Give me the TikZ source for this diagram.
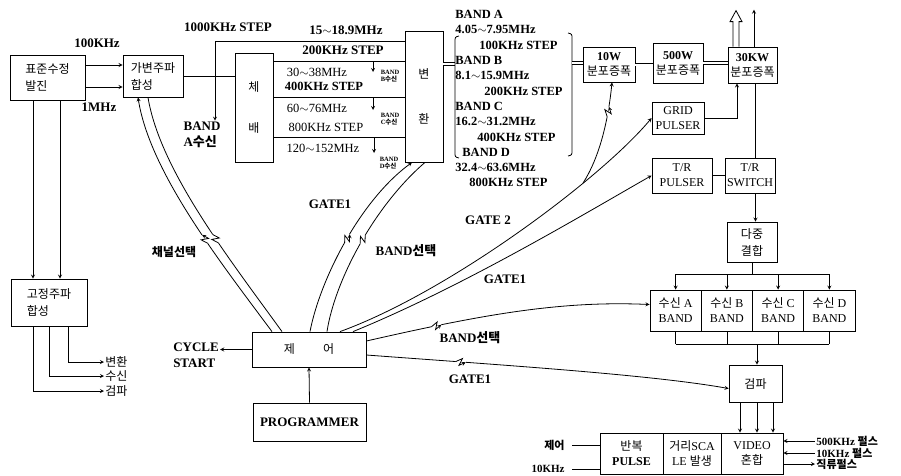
\documentclass[tikz,border=0pt]{standalone}
\usepackage{fontspec}
\setmainfont{Liberation Serif}
\newfontfamily\kr{Noto Sans CJK KR}
\usetikzlibrary{arrows.meta,decorations.markings,positioning}

\tikzset{
  box/.style={draw,thick,align=center,inner sep=1pt,font=\fontsize{12}{15}\selectfont},
  krbox/.style={box,font=\kr\fontsize{12}{17}\selectfont},
  lbl/.style={inner sep=1pt,font=\bfseries\fontsize{13}{16}\selectfont},
  krlbl/.style={inner sep=1pt,font=\kr\fontsize{12}{14}\selectfont},
  rowtxt/.style={inner sep=0pt,font=\fontsize{12.5}{14}\selectfont},
  tiny/.style={inner sep=0pt,align=left,font=\bfseries\fontsize{6.5}{7.5}\selectfont},
  dbl/.style={double,double distance=2pt,thick},
  bolt/.style={postaction={decorate},decoration={markings,mark=at position #1 with {
      \fill[white] (-5pt,-2.2pt) rectangle (5pt,2.2pt);
      \draw[thick] (-5pt,0pt) -- (1.5pt,3.5pt) -- (-1.5pt,-3.5pt) -- (5pt,0pt);}}}
}

\begin{document}
\begin{tikzpicture}[x=1pt,y=-1pt,>=stealth,thick]
\useasboundingbox (0,0) rectangle (901,475);

% oscillator and synthesizers
\node[krbox,align=left,minimum width=75,minimum height=45] (osc) at (47.5,77.5) {표준수정\\발진};
\node[krbox,align=left,minimum width=60,minimum height=42] (vsyn) at (153,76) {가변주파\\합성};
\node[krbox,align=left,minimum width=76,minimum height=47] (fsyn) at (49,302.5) {고정주파\\합성};

\draw[->] ([yshift=12.5pt]osc.east) coordinate (t1) -- (t1 -| vsyn.west);
\draw[->] ([yshift=-9.5pt]osc.east) coordinate (t2) -- (t2 -| vsyn.west);
\node[lbl] (f100k) at (97,43) {100KHz};
\node[lbl] (f1m) at (99,107) {1MHz};

\draw[->] ([xshift=-14.5pt]osc.south) coordinate (t3) -- (t3 |- fsyn.north);
\draw[->] ([xshift=12.5pt]osc.south) coordinate (t4) -- (t4 |- fsyn.north);

% fixed outputs
\node[krlbl,anchor=west] (o1) at (104,362) {변환};
\node[krlbl,anchor=west] (o2) at (104,376) {수신};
\node[krlbl,anchor=west] (o3) at (104,391) {검파};
\draw[->] ([xshift=19pt]fsyn.south) |- (o1.west);
\draw[->] (fsyn.south) |- (o2.west);
\draw[->] ([xshift=-16pt]fsyn.south) |- (o3.west);

% multiplier and converter
\node[krbox,minimum width=38,minimum height=109] (mult) at (254,107.5) {체\\[24pt]배};
\node[krbox,minimum width=38,minimum height=131] (conv) at (424,96.5) {변\\[28pt]환};
\coordinate (jA) at (215,76);
\draw (vsyn.east) -- (vsyn.east -| mult.west);
\draw (jA) |- (conv.west |- 0,41);
\node[lbl,align=left] (bandA) at (202,135) {BAND\\A{\kr 수신}};
\draw[->] (jA) -- (jA |- bandA.north);
\node[lbl] (st1000) at (228,27) {1000KHz STEP};
\node[lbl] (fr15) at (346,30) {15$\sim$18.9MHz};
\node[lbl] (st200) at (343,50) {200KHz STEP};

\foreach \y in {61,97,137}
  \draw (mult.east |- 0,\y) -- (conv.west |- 0,\y);
\node[rowtxt] (fr30) at (317,72) {30$\sim$38MHz};
\node[rowtxt,font=\bfseries\fontsize{12.5}{14}\selectfont] (st400) at (324,86) {400KHz STEP};
\node[rowtxt] (fr60) at (317,108) {60$\sim$76MHz};
\node[rowtxt] (st800) at (326,127) {800KHz STEP};
\node[rowtxt] (fr120) at (323,148) {120$\sim$152MHz};

\node[tiny] (bandB) at (390,76) {BAND\\B{\kr 수신}};
\node[tiny] (bandC) at (390,119) {BAND\\C{\kr 수신}};
\node[tiny] (bandD) at (389,163) {BAND\\D{\kr 수신}};
\draw[->] (373,61) -- (373,72);
\draw[->] (373,97) -- (373,110);
\draw[->] (374,137) -- (374,153);

% band list
\draw[dbl] (conv.east |- 0,64) -- (455,64);
\draw (459,36) .. controls (455,37) .. (455,42) -- (455,152) .. controls (455,157) .. (459,158);
\draw (568,33) .. controls (572,34) .. (572,39) -- (572,150) .. controls (572,155) .. (568,156);
\node[lbl,anchor=north west,align=left,font=\bfseries\fontsize{12.5}{15.3}\selectfont] (bands) at (454,9)
  {BAND A\\4.05$\sim$7.95MHz\\\hspace{24pt}100KHz STEP\\BAND B\\8.1$\sim$15.9MHz\\\hspace{29pt}200KHz STEP\\
   BAND C\\16.2$\sim$31.2MHz\\\hspace{22pt}400KHz STEP\\\hspace{7pt}BAND D\\32.4$\sim$63.6MHz\\\hspace{14pt}800KHz STEP};

% amplifiers
\node[box,minimum width=52,minimum height=35] (amp10) at (609,64.5) {\textbf{10W}\\{\kr 분포증폭}};
\node[box,minimum width=50,minimum height=40] (amp500) at (678,63) {\textbf{500W}\\{\kr 분포증폭}};
\node[box,minimum width=49,minimum height=36] (amp30k) at (752.5,65) {\textbf{30KW}\\{\kr 분포증폭}};
\draw[dbl] (572,63) -- (amp10.west |- 0,63);
\draw[dbl] (amp10.east) -- (amp10.east -| amp500.west);
\draw[dbl] (amp500.east) -- (amp500.east -| amp30k.west);
\draw ([xshift=-19.5pt]amp30k.north) -- ++(0,-25) -- ++(-3,0) -- ++(6,-11) -- ++(6,11) -- ++(-3,0) -- ++(0,25);
\draw[->] ([xshift=1.5pt]amp30k.north) -- ++(0,-37);

% pulsers and duplexer
\node[box,minimum width=52,minimum height=32] (grid) at (678,118) {GRID\\PULSER};
\node[box,minimum width=60,minimum height=35] (trp) at (682,175.5) {T/R\\PULSER};
\node[box,minimum width=50,minimum height=35] (trs) at (750,175.5) {T/R\\SWITCH};
\draw[->] (grid.east) -| ([xshift=-15.5pt]amp30k.south);
\draw (trp.east) -- (trp.east -| trs.west);
\draw ([xshift=3pt]amp30k.south) coordinate (t5) -- (t5 |- trs.north);
\node[krbox,minimum width=50,minimum height=40] (dj) at (752,242) {다중\\결합};
\draw[->] (t5 |- trs.south) -- (t5 |- dj.north);

% receivers
\foreach \i/\c/\x in {1/A/675.6,2/B/726.9,3/C/778.1,4/D/829.4}
  \node[box,minimum width=51.25,minimum height=41] (rx\i) at (\x,310.5) {{\kr 수신} \c\\BAND};
\coordinate (rj) at (752,274);
\draw (dj.south) -- (dj.south |- rj);
\draw (rx1.north |- rj) -- (rx4.north |- rj);
\foreach \i in {1,...,4}
  \draw[->] (rx\i.north |- rj) -- (rx\i.north);
\coordinate (mj) at (757,344);
\foreach \i in {1,...,4}
  \draw (rx\i.south) -- (rx\i.south |- mj);
\draw (rx1.south |- mj) -- (rx4.south |- mj);
\node[krbox,minimum width=53,minimum height=37] (det) at (755.5,383.5) {검파};
\draw[->] (mj) -- (mj |- det.north);

% video section
\node[box,minimum width=63,minimum height=41] (rep) at (631.5,453.5) {{\kr 반복}\\\textbf{PULSE}};
\node[box,minimum width=58,minimum height=41] (rng) at (692,453.5) {{\kr 거리}SCA\\LE {\kr 발생}};
\node[box,minimum width=62,minimum height=41] (vid) at (752,453.5) {VIDEO\\{\kr 혼합}};
\foreach \s in {-15.5,1.5,17.5}
  \draw[->] ([xshift=\s pt]det.south) coordinate (q) -- (q |- vid.north);
\node[krlbl,anchor=east,font=\kr\bfseries\fontsize{11}{13}\selectfont] (inC) at (566,445) {제어};
\node[lbl,anchor=east,font=\bfseries\fontsize{11}{13}\selectfont] (in10) at (566,469) {10KHz};
\draw ([xshift=6pt]inC.east) -- (inC.east -| rep.west);
\draw ([xshift=6pt]in10.east) -- (in10.east -| rep.west);
\node[lbl,anchor=west,font=\bfseries\fontsize{11}{13}\selectfont] (out1) at (815,441) {500KHz {\kr 펄스}};
\node[lbl,anchor=west,font=\bfseries\fontsize{11}{13}\selectfont] (out2) at (815,453) {10KHz {\kr 펄스}};
\node[krlbl,anchor=west,font=\kr\bfseries\fontsize{11}{13}\selectfont] (out3) at (815,464) {직류펄스};
\draw[<-] (vid.east |- out1.west) -- (out1.west);
\draw[<-] (vid.east |- out2.west) -- (out2.west);
\draw[->] (vid.east |- out3.west) -- (out3.west);

% control
\node[box,minimum width=114,minimum height=35,font=\kr\fontsize{12}{14}\selectfont] (ctl) at (309,349.5) {제\hspace{28pt}어};
\node[box,minimum width=113,minimum height=38,font=\bfseries\fontsize{13}{15}\selectfont] (prog) at (309.5,422) {PROGRAMMER};
\draw[->] (prog.north) -- (ctl.south);
\node[lbl,align=left] (cyc) at (196,355) {CYCLE\\START};
\draw[->] (ctl.west) -- (ctl.west -| cyc.east);

% control lines
\draw[->,bolt=0.42] ([xshift=-37pt]ctl.north) .. controls +(-52,-70) and +(12,75) .. ([xshift=-15pt]vsyn.south);
\draw[bolt=0.42] ([xshift=-27pt]ctl.north) .. controls +(-52,-72) and +(12,73) .. ([xshift=-5pt]vsyn.south);
\node[krlbl,font=\kr\bfseries\fontsize{12}{14}\selectfont] (chsel) at (174,252) {채널선택};

\draw[->,bolt=0.5] ([xshift=1pt]ctl.north) .. controls +(10,-52) and +(-52,38) .. ([xshift=-12pt]conv.south);
\draw[bolt=0.5] ([xshift=18pt]ctl.north) .. controls +(8,-52) and +(-50,43) .. ([xshift=1pt]conv.south);
\node[lbl] (g1a) at (330,204) {GATE1};
\node[lbl] (bsel1) at (406,251) {BAND{\kr 선택}};

\draw[->] ([xshift=31pt]ctl.north) .. controls +(110,-40) and +(-50,60) .. coordinate[pos=0.7] (g2b) (grid.west);
\draw[->,bolt=0.72] (g2b) .. controls +(16,-25) and +(-4,40) .. ([xshift=3pt]amp10.south);
\node[lbl] (g2) at (488,220) {GATE 2};
\draw[->] ([xshift=44pt]ctl.north) .. controls +(110,-45) and +(-70,40) .. (trp.west);
\node[lbl] (g1b) at (505,279) {GATE1};

\draw[->,bolt=0.25] ([yshift=8.5pt]ctl.east) .. controls +(114,-26) and +(-90,-4) .. ([yshift=6pt]rx1.west);
\node[lbl] (bsel2) at (470,338) {BAND{\kr 선택}};
\draw[->,bolt=0.26] ([yshift=-5.5pt]ctl.east) .. controls +(134,10) and +(-79,-14) .. ([yshift=-5pt]det.west);
\node[lbl] (g1c) at (470,379) {GATE1};

\end{tikzpicture}
\end{document}
